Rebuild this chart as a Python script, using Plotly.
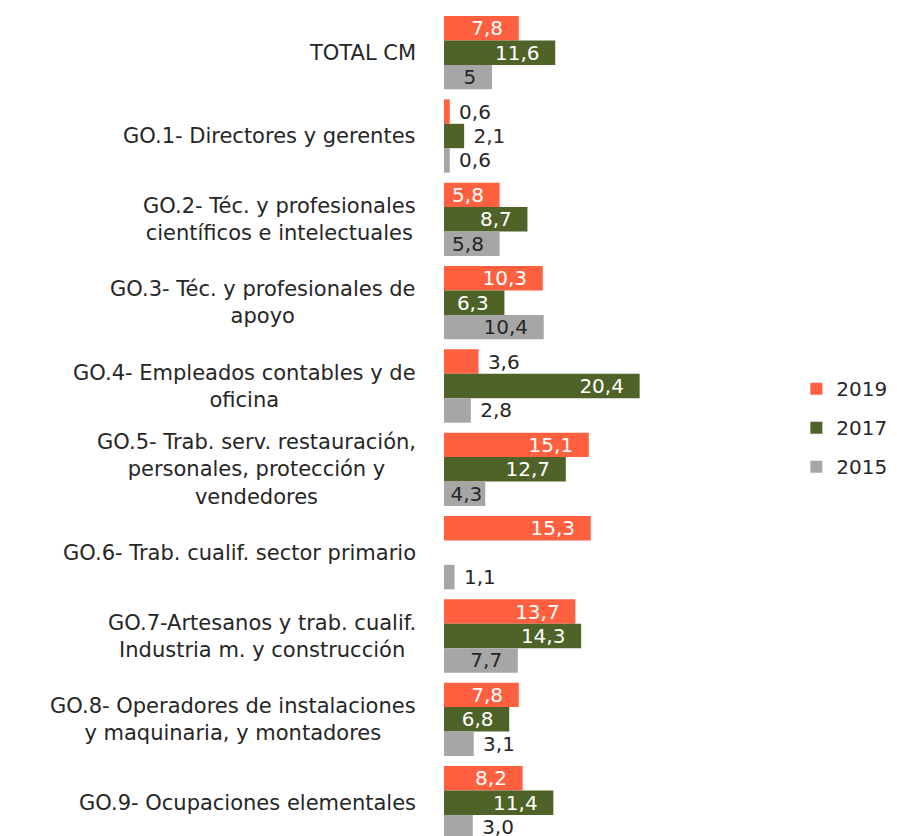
import plotly.graph_objects as go

categories = [
    "TOTAL CM",
    "GO.1- Directores y gerentes",
    "GO.2- Téc. y profesionales<br>científicos e intelectuales",
    "GO.3- Téc. y profesionales de<br>apoyo",
    "GO.4- Empleados contables y de<br>oficina",
    "GO.5- Trab. serv. restauración,<br>personales, protección y<br>vendedores",
    "GO.6- Trab. cualif. sector primario",
    "GO.7-Artesanos y trab. cualif.<br>Industria m. y construcción",
    "GO.8- Operadores de instalaciones<br>y maquinaria, y montadores",
    "GO.9- Ocupaciones elementales",
]
v2019 = [7.8, 0.6, 5.8, 10.3, 3.6, 15.1, 15.3, 13.7, 7.8, 8.2]
v2017 = [11.6, 2.1, 8.7, 6.3, 20.4, 12.7, None, 14.3, 6.8, 11.4]
v2015 = [5, 0.6, 5.8, 10.4, 2.8, 4.3, 1.1, 7.7, 3.1, 3.0]

series = [
    ("2019", v2019, "#FF6040", "white"),
    ("2017", v2017, "#4F6228", "white"),
    ("2015", v2015, "#A6A6A6", "#262626"),
]

FONT = "DejaVu Sans"
SMALL = 4.0
NB = "\u00a0"

def fmt(v, small):
    if v is None:
        return ""
    s = str(v).replace(".", ",")
    if small:
        return NB + s
    if v < 5:
        return s
    return s + NB + NB

fig = go.Figure()
for name, vals, color, tcol in series:
    small = [(v is not None and v < SMALL) for v in vals]
    pos = ["outside" if s else "inside" for s in small]
    cols = ["#262626" if s else tcol for s in small]
    fig.add_trace(go.Bar(
        name=name, y=categories, x=vals, orientation="h",
        legendgroup=name,
        marker=dict(color=color, line=dict(width=0)),
        text=[fmt(v, s) for v, s in zip(vals, small)], textposition=pos, textangle=0,
        insidetextanchor="end", constraintext="none",
        textfont=dict(family=FONT, size=20, color=cols),
        cliponaxis=False,
    ))

for c in categories:
    fig.add_annotation(x=0, y=c, xref="x", yref="y", text=c, showarrow=False,
                       xanchor="right", align="center", xshift=-26,
                       font=dict(family=FONT, size=21, color="#262626"))

fig.update_layout(
    width=889, height=828,
    margin=dict(l=436, r=242, t=3, b=0, autoexpand=False),
    plot_bgcolor="white", paper_bgcolor="white",
    barmode="group", bargap=0.12, bargroupgap=0.0,
    showlegend=True,
    legend=dict(x=1.67, y=0.495, xanchor="left", yanchor="middle",
                font=dict(family=FONT, size=20, color="#262626"),
                tracegroupgap=10, itemwidth=30),
    font=dict(family=FONT),
)
fig.update_xaxes(range=[0, 22], visible=False)
fig.update_yaxes(range=[9.4, -0.5], showticklabels=False, showgrid=False,
                 zeroline=False, showline=False, ticks="")

fig.write_html("out.html")
